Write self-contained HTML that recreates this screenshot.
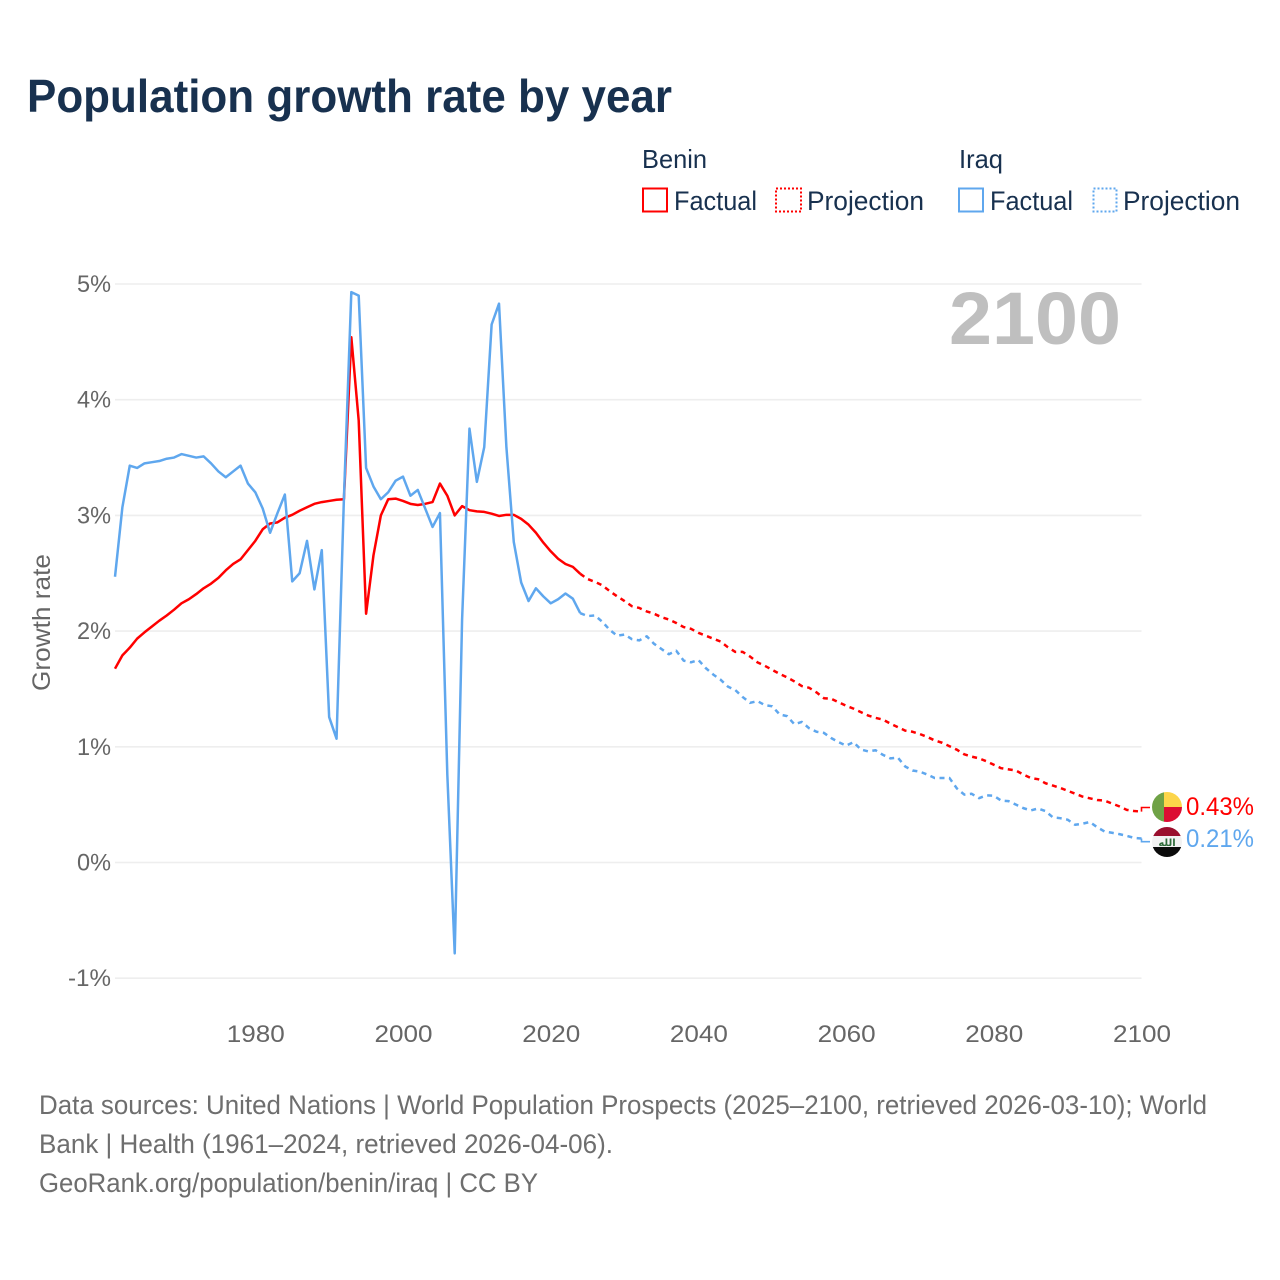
<!DOCTYPE html>
<html lang="en">
<head>
<meta charset="utf-8">
<title>Population growth rate by year</title>
<style>
html,body{margin:0;padding:0;background:#fff;width:1280px;height:1280px;overflow:hidden}
svg{display:block}
text{font-family:"Liberation Sans",sans-serif}
</style>
</head>
<body>
<svg id="chart" xmlns="http://www.w3.org/2000/svg" width="1280" height="1280" viewBox="0 0 1280 1280">
  <text x="27" y="112" font-size="46" font-weight="700" fill="#18314f" textLength="645" lengthAdjust="spacingAndGlyphs">Population growth rate by year</text>

  <g>
    <text x="642" y="168" font-size="26" fill="#18314f" textLength="65" lengthAdjust="spacingAndGlyphs">Benin</text>
    <text x="959" y="168" font-size="26" fill="#18314f" textLength="44" lengthAdjust="spacingAndGlyphs">Iraq</text>
    <rect x="643" y="188.5" width="24" height="23" fill="none" stroke="#ff0000" stroke-width="2"/>
    <text x="674" y="210" font-size="27" fill="#18314f" textLength="83" lengthAdjust="spacingAndGlyphs">Factual</text>
    <rect x="776" y="188.5" width="25" height="23" fill="none" stroke="#ff0000" stroke-width="2" stroke-dasharray="2 2"/>
    <text x="807" y="210" font-size="27" fill="#18314f" textLength="117" lengthAdjust="spacingAndGlyphs">Projection</text>
    <rect x="959" y="188.5" width="24" height="23" fill="none" stroke="#5fa7ee" stroke-width="2"/>
    <text x="990" y="210" font-size="27" fill="#18314f" textLength="83" lengthAdjust="spacingAndGlyphs">Factual</text>
    <rect x="1093.500" y="188.5" width="23" height="23" fill="none" stroke="#5fa7ee" stroke-width="2" stroke-dasharray="2 2"/>
    <text x="1123" y="210" font-size="27" fill="#18314f" textLength="117" lengthAdjust="spacingAndGlyphs">Projection</text>
  </g>

  <g id="grid"></g>
  <g id="yticks"></g>
  <g id="xticks"></g>

  <text transform="translate(50 691) rotate(-90)" x="0" y="0" font-size="25" fill="#666666" textLength="137" lengthAdjust="spacingAndGlyphs">Growth rate</text>

  <text x="949" y="344" font-size="74" font-weight="700" fill="#bfbfbf" textLength="172" lengthAdjust="spacingAndGlyphs">2100</text>

  <g id="series"></g>

  <g>
    <clipPath id="clip-benin"><circle cx="1167" cy="807" r="15"/></clipPath>
    <g clip-path="url(#clip-benin)">
      <rect x="1152" y="792" width="12" height="30" fill="#6fa246"/>
      <rect x="1164" y="792" width="18" height="15" fill="#fcd54a"/>
      <rect x="1164" y="807" width="18" height="15" fill="#dc0c32"/>
    </g>
  </g>
  <g>
    <clipPath id="clip-iraq"><circle cx="1167" cy="842" r="15"/></clipPath>
    <g clip-path="url(#clip-iraq)">
      <rect x="1152" y="827" width="30" height="9" fill="#9a0f2d"/>
      <rect x="1152" y="836" width="30" height="11" fill="#f2f2f2"/>
      <rect x="1152" y="847" width="30" height="10" fill="#0b0b0b"/>
      <text x="1167" y="846" font-size="10" font-weight="700" text-anchor="middle" fill="#2f6b3a" style="font-family:'DejaVu Sans',sans-serif">الله</text>
    </g>
  </g>

  <g id="endlabels"></g>

  <g>
    <text x="39" y="1114" font-size="27" fill="#6e6e6e" textLength="1168" lengthAdjust="spacingAndGlyphs">Data sources: United Nations | World Population Prospects (2025–2100, retrieved 2026-03-10); World</text>
    <text x="39" y="1153" font-size="27" fill="#6e6e6e" textLength="574" lengthAdjust="spacingAndGlyphs">Bank | Health (1961–2024, retrieved 2026-04-06).</text>
    <text x="39" y="1192" font-size="27" fill="#6e6e6e" textLength="499" lengthAdjust="spacingAndGlyphs">GeoRank.org/population/benin/iraq | CC BY</text>
  </g>
</svg>

<script>
var factualStartYear = 1961;
var projectionStartYear = 2025;
var yTickValues = [-1, 0, 1, 2, 3, 4, 5];
var yTickLabels = ['-1%', '0%', '1%', '2%', '3%', '4%', '5%'];
var xTickYears = [1980, 2000, 2020, 2040, 2060, 2080, 2100];
var xTickLabels = ['1980', '2000', '2020', '2040', '2060', '2080', '2100'];

var beninFactual = [
  1.675,1.79,1.857,1.935,1.99,2.04,2.09,2.135,2.185,2.24,
  2.275,2.32,2.37,2.41,2.46,2.525,2.58,2.62,2.70,2.78,
  2.88,2.93,2.94,2.98,3.005,3.04,3.07,3.10,3.115,3.125,
  3.135,3.14,4.54,3.82,2.15,2.655,3.00,3.14,3.145,3.125,
  3.10,3.09,3.10,3.115,3.275,3.17,3.00,3.08,3.045,3.035,
  3.03,3.015,2.995,3.005,3.005,2.97,2.92,2.85,2.765,2.69,
  2.625,2.58,2.555,2.495
];
var beninProjection = [
  2.45,2.425,2.395,2.345,2.30,2.26,
  2.215,2.20,2.17,2.15,2.12,2.10,2.07,2.035,2.02,1.985,
  1.96,1.935,1.91,1.86,1.82,1.82,1.78,1.73,1.70,1.665,
  1.63,1.60,1.565,1.525,1.51,1.47,1.42,1.415,1.385,1.355,
  1.33,1.30,1.27,1.25,1.235,1.20,1.17,1.14,1.13,1.11,
  1.085,1.055,1.035,1.005,0.975,0.935,0.915,0.90,0.875,0.845,
  0.815,0.805,0.795,0.76,0.73,0.72,0.685,0.665,0.645,0.62,
  0.595,0.57,0.555,0.54,0.535,0.51,0.485,0.455,0.445,0.44
];
var iraqFactual = [
  2.47,3.07,3.43,3.41,3.45,3.46,3.47,3.49,3.50,3.53,
  3.515,3.50,3.51,3.45,3.38,3.33,3.38,3.43,3.275,3.20,
  3.06,2.85,3.02,3.18,2.43,2.50,2.78,2.36,2.70,1.257,
  1.07,3.15,4.93,4.90,3.41,3.25,3.14,3.20,3.30,3.335,
  3.17,3.22,3.06,2.90,3.02,0.76,-0.785,2.10,3.75,3.29,
  3.59,4.65,4.83,3.59,2.77,2.42,2.26,2.37,2.30,2.24,
  2.275,2.325,2.28,2.155
];
var iraqProjection = [
  2.13,2.135,2.08,2.01,1.96,1.97,
  1.93,1.92,1.955,1.89,1.845,1.80,1.83,1.745,1.73,1.75,
  1.68,1.625,1.58,1.52,1.49,1.43,1.38,1.395,1.36,1.35,
  1.28,1.265,1.195,1.215,1.16,1.13,1.12,1.075,1.04,1.01,
  1.04,0.977,0.96,0.97,0.93,0.90,0.907,0.83,0.795,0.785,
  0.76,0.73,0.73,0.73,0.64,0.587,0.594,0.556,0.58,0.577,
  0.535,0.53,0.50,0.47,0.45,0.467,0.444,0.39,0.383,0.37,
  0.326,0.335,0.35,0.305,0.268,0.257,0.245,0.23,0.213,0.207
];
var endLabels = ['0.43%', '0.21%'];

var SVG_NS = 'http://www.w3.org/2000/svg';
var plotLeft = 115, plotRight = 1141.5, yearMin = 1961, yearMax = 2100;
var zeroY = 862.5, pxPerPercent = 115.7;
var red = '#ff0000', blue = '#5fa7ee';

function xScale(year) { return plotLeft + (year - yearMin) * (plotRight - plotLeft) / (yearMax - yearMin); }
function yScale(value) { return zeroY - value * pxPerPercent; }

function make(tag, parentId) {
  var el = document.createElementNS(SVG_NS, tag);
  document.getElementById(parentId).appendChild(el);
  return el;
}

function pathFor(values, startYear, prefix) {
  var parts = prefix ? [prefix] : [];
  for (var i = 0; i < values.length; i++) {
    parts.push(xScale(startYear + i).toFixed(2) + ' ' + yScale(values[i]).toFixed(2));
  }
  return 'M' + parts.join(' L');
}

yTickValues.forEach(function (v, i) {
  var line = make('line', 'grid');
  
  
  line.setAttribute('x1', plotLeft);
  line.setAttribute('x2', plotRight);
  line.setAttribute('y1', yScale(v));
  line.setAttribute('y2', yScale(v));
  line.setAttribute('stroke', '#eeeeee');
  line.setAttribute('stroke-width', '1.6');

  var t = make('text', 'yticks');
  
  
  t.setAttribute('x', 111);
  t.setAttribute('y', yScale(v) + 8);
  t.setAttribute('text-anchor', 'end');
  t.setAttribute('font-size', '24');
  t.setAttribute('fill', '#666666');
  t.setAttribute('textLength', yTickLabels[i].length === 3 ? 43 : 34);
  t.setAttribute('lengthAdjust', 'spacingAndGlyphs');
  t.textContent = yTickLabels[i];
});

xTickYears.forEach(function (year, i) {
  var t = make('text', 'xticks');
  
  
  t.setAttribute('x', xScale(year) + 0.5);
  t.setAttribute('y', 1042);
  t.setAttribute('text-anchor', 'middle');
  t.setAttribute('font-size', '24');
  t.setAttribute('fill', '#666666');
  t.setAttribute('textLength', 58);
  t.setAttribute('lengthAdjust', 'spacingAndGlyphs');
  t.textContent = xTickLabels[i];
});

function styleLine(el, color, dashed) {
  el.setAttribute('fill', 'none');
  el.setAttribute('stroke', color);
  el.setAttribute('stroke-width', '2.5');
  el.setAttribute('stroke-linejoin', 'round');
  if (dashed) { el.setAttribute('stroke-dasharray', '5 4.5'); }
}

var lastIraqYear = factualStartYear + iraqFactual.length - 1;
var lastBeninYear = factualStartYear + beninFactual.length - 1;

var iraqProjLine = make('path', 'series');


iraqProjLine.setAttribute('d', pathFor(iraqProjection, projectionStartYear,
  xScale(lastIraqYear).toFixed(2) + ' ' + yScale(iraqFactual[iraqFactual.length - 1]).toFixed(2)));
styleLine(iraqProjLine, blue, true);

var beninProjLine = make('path', 'series');


beninProjLine.setAttribute('d', pathFor(beninProjection, projectionStartYear,
  xScale(lastBeninYear).toFixed(2) + ' ' + yScale(beninFactual[beninFactual.length - 1]).toFixed(2)));
styleLine(beninProjLine, red, true);

var beninLine = make('path', 'series');


beninLine.setAttribute('d', pathFor(beninFactual, factualStartYear));
styleLine(beninLine, red, false);

var iraqLine = make('path', 'series');


iraqLine.setAttribute('d', pathFor(iraqFactual, factualStartYear));
styleLine(iraqLine, blue, false);

function connector(values, labelY) {
  var y0 = yScale(values[values.length - 1]);
  var x0 = xScale(yearMax);
  return 'M' + x0 + ' ' + y0 + ' L' + x0 + ' ' + labelY + ' L' + (x0 + 8.5) + ' ' + labelY;
}

var beninConnector = make('path', 'endlabels');


beninConnector.setAttribute('d', connector(beninProjection, 807.5));
beninConnector.setAttribute('fill', 'none');
beninConnector.setAttribute('stroke', red);
beninConnector.setAttribute('stroke-width', '1.6');

var iraqConnector = make('path', 'endlabels');


iraqConnector.setAttribute('d', connector(iraqProjection, 841.7));
iraqConnector.setAttribute('fill', 'none');
iraqConnector.setAttribute('stroke', blue);
iraqConnector.setAttribute('stroke-width', '1.6');

var beninEnd = make('text', 'endlabels');


beninEnd.setAttribute('x', 1186);
beninEnd.setAttribute('y', 815);
beninEnd.setAttribute('font-size', '25');
beninEnd.setAttribute('fill', red);
beninEnd.setAttribute('textLength', 68);
beninEnd.setAttribute('lengthAdjust', 'spacingAndGlyphs');
beninEnd.textContent = endLabels[0];

var iraqEnd = make('text', 'endlabels');


iraqEnd.setAttribute('x', 1186);
iraqEnd.setAttribute('y', 847);
iraqEnd.setAttribute('font-size', '25');
iraqEnd.setAttribute('fill', blue);
iraqEnd.setAttribute('textLength', 68);
iraqEnd.setAttribute('lengthAdjust', 'spacingAndGlyphs');
iraqEnd.textContent = endLabels[1];
</script>
</body>
</html>
